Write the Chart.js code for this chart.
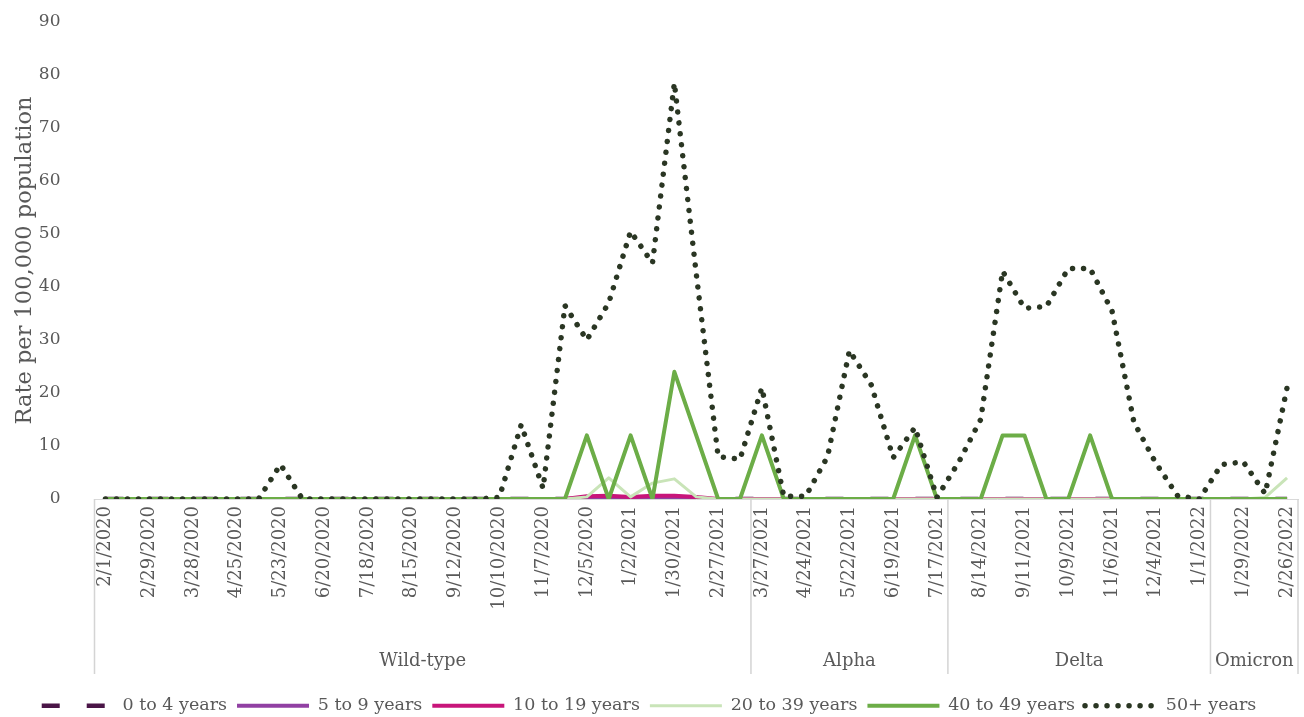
<!DOCTYPE html>
<html>
<head>
<meta charset="utf-8">
<title>Rate per 100,000 population by age group</title>
<script src="https://cdn.jsdelivr.net/npm/chart.js@4.4.1/dist/chart.umd.min.js"></script>
<style>
  html, body { margin: 0; padding: 0; background: #ffffff; }
  canvas { display: block; }
</style>
</head>
<body>
<canvas id="chart" width="1304" height="717"></canvas>
<script>
// Two-week periods (period start dates)
const weekEnding = [
  '2/1/2020', '2/15/2020', '2/29/2020', '3/14/2020', '3/28/2020', '4/11/2020', '4/25/2020', '5/9/2020',
  '5/23/2020', '6/6/2020', '6/20/2020', '7/4/2020', '7/18/2020', '8/1/2020', '8/15/2020', '8/29/2020',
  '9/12/2020', '9/26/2020', '10/10/2020', '10/24/2020', '11/7/2020', '11/21/2020', '12/5/2020', '12/19/2020',
  '1/2/2021', '1/16/2021', '1/30/2021', '2/13/2021', '2/27/2021', '3/13/2021', '3/27/2021', '4/10/2021',
  '4/24/2021', '5/8/2021', '5/22/2021', '6/5/2021', '6/19/2021', '7/3/2021', '7/17/2021', '7/31/2021',
  '8/14/2021', '8/28/2021', '9/11/2021', '9/25/2021', '10/9/2021', '10/23/2021', '11/6/2021', '11/20/2021',
  '12/4/2021', '12/18/2021', '1/1/2022', '1/15/2022', '1/29/2022', '2/12/2022', '2/26/2022'
];

// Dominant variant and how many periods each one spans
const variantNames = ['Wild-type', 'Alpha', 'Delta', 'Omicron'];
const variantPeriods = [30, 9, 12, 4];

// Rates per 100,000 population by age group
const age0to4 = [
  0, 0, 0, 0, 0, 0, 0, 0, 0, 0,
  0, 0, 0, 0, 0, 0, 0, 0, 0, 0,
  0, 0, 0, 0, 0, 0, 0, 0, 0, 0,
  0, 0, 0, 0, 0, 0, 0, 0, 0, 0,
  0, 0, 0, 0, 0, 0, 0, 0, 0, 0,
  0, 0, 0, 0, 0
];
const age5to9 = [
  0, 0, 0, 0, 0, 0, 0, 0, 0, 0,
  0, 0, 0, 0, 0, 0, 0, 0, 0, 0,
  0, 0, 0, 0, 0, 0, 0, 0, 0, 0,
  0, 0, 0, 0, 0, 0, 0, 0, 0, 0,
  0, 0, 0, 0, 0, 0, 0, 0, 0, 0,
  0, 0, 0, 0, 0
];
const age10to19 = [
  0, 0, 0, 0, 0, 0, 0, 0, 0, 0,
  0, 0, 0, 0, 0, 0, 0, 0, 0, 0,
  0, 0, 0.5, 0.6, 0.4, 0.6, 0.6, 0.4, 0, 0,
  0, 0, 0, 0, 0, 0, 0, 0, 0, 0,
  0, 0, 0, 0, 0, 0, 0, 0, 0, 0,
  0, 0, 0, 0, 0
];
const age20to39 = [
  0, 0, 0, 0, 0, 0, 0, 0, 0, 0,
  0, 0, 0, 0, 0, 0, 0, 0, 0, 0,
  0, 0, 0.4, 4.0, 0.4, 3.0, 3.8, 0.4, 0, 0,
  0, 0, 0, 0, 0, 0, 0, 0, 0, 0,
  0, 0, 0, 0, 0, 0, 0, 0, 0, 0,
  0, 0, 0, 0.3, 4.0
];
const age40to49 = [
  0, 0, 0, 0, 0, 0, 0, 0, 0, 0,
  0, 0, 0, 0, 0, 0, 0, 0, 0, 0,
  0, 0, 12, 0, 12, 0, 24, 12, 0, 0,
  12, 0, 0, 0, 0, 0, 0, 12, 0, 0,
  0, 12, 12, 0, 0, 12, 0, 0, 0, 0,
  0, 0, 0, 0, 0
];
const age50plus = [
  0, 0, 0, 0, 0, 0, 0, 0, 6.5, 0,
  0, 0, 0, 0, 0, 0, 0, 0, 0.3, 14,
  2, 36.5, 30, 37, 50.5, 44.5, 78.5, 42.5, 8, 7.5,
  21, 0.5, 0.5, 8, 28, 21.5, 7.8, 13.5, 0.3, 7,
  15, 43, 36, 36.3, 43.5, 43.5, 35.5, 14.5, 6.8, 0.6,
  0, 6.5, 7, 1, 21
];

const yTicks = [0, 10, 20, 30, 40, 50, 60, 70, 80, 90];

const FONT = 'DejaVu Serif';
const TEXT = '#595959';

// Variant band under the date labels: dividers and centred names
const variantRow = {
  id: 'variantRow',
  afterDraw(chart) {
    const x = chart.scales.x;
    const ctx = chart.ctx;
    const half = (x.getPixelForValue(1) - x.getPixelForValue(0)) / 2;
    const top = chart.chartArea.bottom;
    const lineBottom = top + 175;
    const labelY = top + 162;
    ctx.save();
    ctx.strokeStyle = '#D4D4D4';
    ctx.lineWidth = 1.5;
    ctx.fillStyle = TEXT;
    ctx.font = '18px "' + FONT + '"';
    ctx.textAlign = 'center';
    ctx.textBaseline = 'middle';
    let start = 0;
    variantPeriods.forEach((n, k) => {
      const end = start + n - 1;
      const l = x.getPixelForValue(start) - half;
      const r = x.getPixelForValue(end) + half;
      ctx.beginPath();
      if (k === 0) { ctx.moveTo(l, top); ctx.lineTo(l, lineBottom); }
      ctx.moveTo(r, top);
      ctx.lineTo(r, lineBottom);
      ctx.stroke();
      ctx.fillText(variantNames[k], (l + r) / 2, labelY);
      start += n;
    });
    ctx.restore();
  }
};

const line = (label, data, color, width, extra) => Object.assign({
  label, data,
  borderColor: color,
  backgroundColor: color,
  borderWidth: width,
  pointRadius: 0,
  pointHoverRadius: 0,
  tension: 0,
  fill: false,
  borderJoinStyle: 'round'
}, extra || {});

// Legend samples follow each series' own stroke (dash, width, cap)
const legendItems = (chart) =>
  Chart.defaults.plugins.legend.labels.generateLabels(chart).map((item) => {
    const ds = chart.data.datasets[item.datasetIndex];
    return Object.assign(item, {
      strokeStyle: ds.borderColor,
      lineWidth: ds.borderWidth,
      lineDash: ds.borderDash || [],
      lineCap: ds.borderCapStyle || 'butt',
      pointStyle: 'line'
    });
  });

new Chart(document.getElementById('chart'), {
  type: 'line',
  data: {
    labels: weekEnding,
    datasets: [
      line('0 to 4 years', age0to4, '#4A1547', 4.5, { borderDash: [18, 27], borderCapStyle: 'butt', order: 5 }),
      line('5 to 9 years', age5to9, '#9140A3', 4, { order: 4 }),
      line('10 to 19 years', age10to19, '#C8157A', 4, { order: 3 }),
      line('20 to 39 years', age20to39, '#C9E4B8', 3, { order: 2 }),
      line('40 to 49 years', age40to49, '#6CAD47', 4, { order: 1 }),
      line('50+ years', age50plus, '#2A3623', 5.5, { borderDash: [0.01, 11], borderCapStyle: 'round', order: 0 })
    ]
  },
  options: {
    responsive: false,
    animation: false,
    devicePixelRatio: 1,
    layout: { padding: { top: 22, right: 6, bottom: 0, left: 0 } },
    plugins: {
      tooltip: { enabled: false },
      legend: {
        position: 'bottom',
        maxHeight: 30,
        labels: {
          usePointStyle: true,
          pointStyle: 'line',
          pointStyleWidth: 72,
          padding: 10,
          color: TEXT,
          font: { family: FONT, size: 17.5 },
          generateLabels: legendItems,
          sort: (a, b) => a.datasetIndex - b.datasetIndex
        }
      }
    },
    scales: {
      x: {
        type: 'category',
        offset: true,
        grid: { display: false, drawTicks: false },
        border: { display: true, color: '#D9D9D9', width: 1 },
        ticks: {
          autoSkip: false,
          minRotation: 90,
          maxRotation: 90,
          padding: 7,
          color: TEXT,
          font: { family: FONT, size: 18 },
          callback: (value, index) => (index % 2 === 0 ? weekEnding[index] : '')
        },
        afterFit: (scale) => {
          scale.height = 188;
          scale.paddingLeft = 0;
          scale.paddingRight = 0;
        }
      },
      y: {
        min: 0,
        max: 90,
        grid: { display: false, drawTicks: false },
        border: { display: false },
        afterBuildTicks: (scale) => { scale.ticks = yTicks.map(v => ({ value: v })); },
        ticks: {
          padding: 34,
          color: TEXT,
          font: { family: FONT, size: 17 }
        },
        title: {
          display: true,
          text: 'Rate per 100,000 population',
          color: TEXT,
          font: { family: FONT, size: 22.5 },
          padding: { top: 12, bottom: 0 }
        },
        afterFit: (scale) => {
          scale.width = 94.5;
          scale.paddingTop = 0;
          scale.paddingBottom = 0;
        }
      }
    }
  },
  plugins: [variantRow]
});
</script>
</body>
</html>
